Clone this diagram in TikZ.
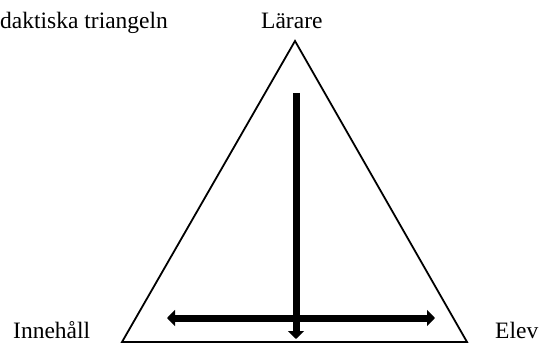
\documentclass[tikz,border=0pt]{standalone}
\usepackage{fontspec}
\setmainfont{Liberation Serif}
\usetikzlibrary{arrows.meta}

\begin{document}
\begin{tikzpicture}[
  x=1pt,y=-1pt,
  lbl/.style={inner sep=0pt,anchor=base west,font=\fontsize{23.5}{28}\selectfont},
  tri/.style={draw=black,line width=1.8pt,line join=miter},
  bigarr/.style={line width=7pt,-{Triangle[length=8pt,width=16pt]}},
  bothway/.style={bigarr,{Triangle[length=8pt,width=16pt]}-{Triangle[length=8pt,width=16pt]}}
]
\useasboundingbox (0,0) rectangle (539,345);

% Triangle
\coordinate (apex) at (295,41);
\coordinate (bl) at (122,342);
\coordinate (br) at (467,342);
\draw[tri] (apex) -- (bl) -- (br) -- cycle;

% Labels
\node[lbl] (title) at (0,29) {daktiska triangeln};
\node[lbl] (larare) at (261,29) {Lärare};
\node[lbl] (innehall) at (13,338) {Innehåll};
\node[lbl] (elev) at (495,338) {Elev};

% Arrows
\coordinate (vtop) at (296,93);
\coordinate (vbot) at (296,339);
\coordinate (hleft) at (167,318);
\coordinate (hright) at (435,318);
\draw[bigarr] (vtop) -- (vbot);
\draw[bothway] (hleft) -- (hright);

\end{tikzpicture}
\end{document}
